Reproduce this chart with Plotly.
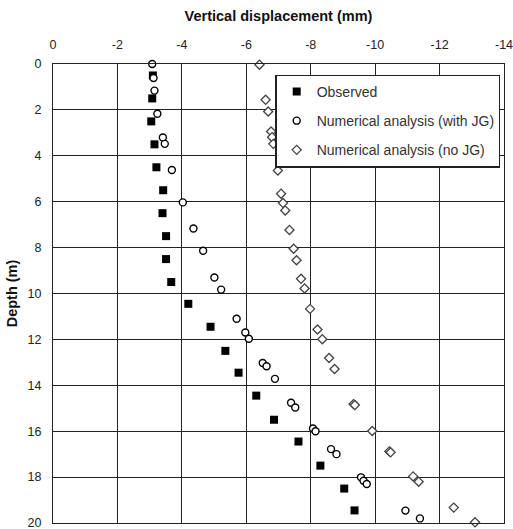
import plotly.graph_objects as go

# Observed
obs_depth = [0.5, 1.5, 2.5, 3.5, 4.5, 5.5, 6.5, 7.5, 8.5, 9.5,
             10.45, 11.45, 12.5, 13.45, 14.45, 15.5, 16.45, 17.5, 18.5, 19.45]
obs_disp = [-3.1, -3.08, -3.05, -3.15, -3.21, -3.42, -3.4, -3.51, -3.51, -3.67,
            -4.2, -4.89, -5.35, -5.76, -6.31, -6.86, -7.62, -8.3, -9.04, -9.36]

# Numerical analysis (with JG)
jg_depth = [0.0, 0.61, 1.16, 2.17, 3.2, 3.48, 4.62, 6.03, 7.17, 8.14, 9.3, 9.83,
            11.1, 11.7, 11.97, 13.03, 13.17, 13.72, 14.76, 14.97, 15.88, 16.0,
            16.78, 17.0, 18.01, 18.16, 18.3, 19.46, 19.8]
jg_disp = [-3.08, -3.12, -3.15, -3.24, -3.41, -3.47, -3.69, -4.03, -4.36, -4.66, -5.01, -5.22,
           -5.7, -5.97, -6.08, -6.51, -6.63, -6.89, -7.39, -7.52, -8.07, -8.15,
           -8.63, -8.8, -9.56, -9.64, -9.74, -10.94, -11.39]

# Numerical analysis (no JG)
nojg_depth = [0.03, 1.56, 2.07, 2.94, 3.19, 3.48, 4.64, 5.65, 6.06, 6.38, 7.23, 8.05,
              8.55, 9.36, 9.78, 10.67, 11.57, 11.99, 12.81, 13.29, 14.82, 14.86,
              15.99, 16.88, 16.92, 17.97, 18.2, 19.33, 19.97]
nojg_disp = [-6.41, -6.6, -6.68, -6.77, -6.8, -6.84, -6.98, -7.08, -7.14, -7.21, -7.34, -7.47,
             -7.56, -7.7, -7.81, -7.98, -8.21, -8.36, -8.57, -8.74, -9.33, -9.37,
             -9.91, -10.44, -10.48, -11.18, -11.35, -12.44, -13.1]

x_ticks = [0, -2, -4, -6, -8, -10, -12, -14]
y_ticks = [0, 2, 4, 6, 8, 10, 12, 14, 16, 18, 20]

fig = go.Figure()
fig.add_trace(go.Scatter(
    x=obs_disp, y=obs_depth, mode="markers", name="Observed", legendgroup="a",
    marker=dict(symbol="square", size=8, color="black", line=dict(width=0)),
    cliponaxis=False))
fig.add_trace(go.Scatter(
    x=jg_disp, y=jg_depth, mode="markers", name="Numerical analysis (with JG)", legendgroup="b",
    marker=dict(symbol="circle", size=7, color="white", line=dict(width=1.4, color="black")),
    cliponaxis=False))
fig.add_trace(go.Scatter(
    x=nojg_disp, y=nojg_depth, mode="markers", name="Numerical analysis (no JG)", legendgroup="c",
    marker=dict(symbol="diamond", size=7, color="white", line=dict(width=1.3, color="#444")),
    cliponaxis=False))

font_family = "Liberation Sans, Arial, sans-serif"
fig.update_layout(
    width=513, height=529,
    margin=dict(l=53, r=9, t=64, b=6, pad=0),
    paper_bgcolor="white", plot_bgcolor="white",
    font=dict(family=font_family, color="#222", size=12),
    showlegend=True,
    legend=dict(
        x=0.992, y=0.977, xanchor="right", yanchor="top",
        bgcolor="white", bordercolor="#222", borderwidth=1.3,
        font=dict(size=14, color="#333", family=font_family),
        tracegroupgap=8, itemwidth=30,
    ),
    xaxis=dict(
        side="top", range=[0, -14], tickvals=x_ticks, ticktext=[str(v) for v in x_ticks],
        showgrid=True, gridcolor="#222", gridwidth=1.2,
        showline=True, linecolor="#222", linewidth=1.3, mirror=True,
        zeroline=False, ticks="", ticklabelstandoff=9, ticklabeloverflow="allow",
        automargin=False,
        tickfont=dict(size=12.5, color="#222"),
        title=dict(text="<b>Vertical displacement (mm)</b>", font=dict(size=14.5, color="#111"), standoff=12),
    ),
    yaxis=dict(
        range=[20, 0], tickvals=y_ticks, ticktext=[str(v) for v in y_ticks],
        showgrid=True, gridcolor="#222", gridwidth=1.2,
        showline=True, linecolor="#222", linewidth=1.3, mirror=True,
        zeroline=False, ticks="", ticklabelstandoff=8, ticklabeloverflow="allow",
        automargin=False,
        tickfont=dict(size=12.5, color="#222"),
        title=dict(text="<b>Depth (m)</b>", font=dict(size=14.5, color="#111"), standoff=6),
    ),
)

fig.write_html("out.html")
